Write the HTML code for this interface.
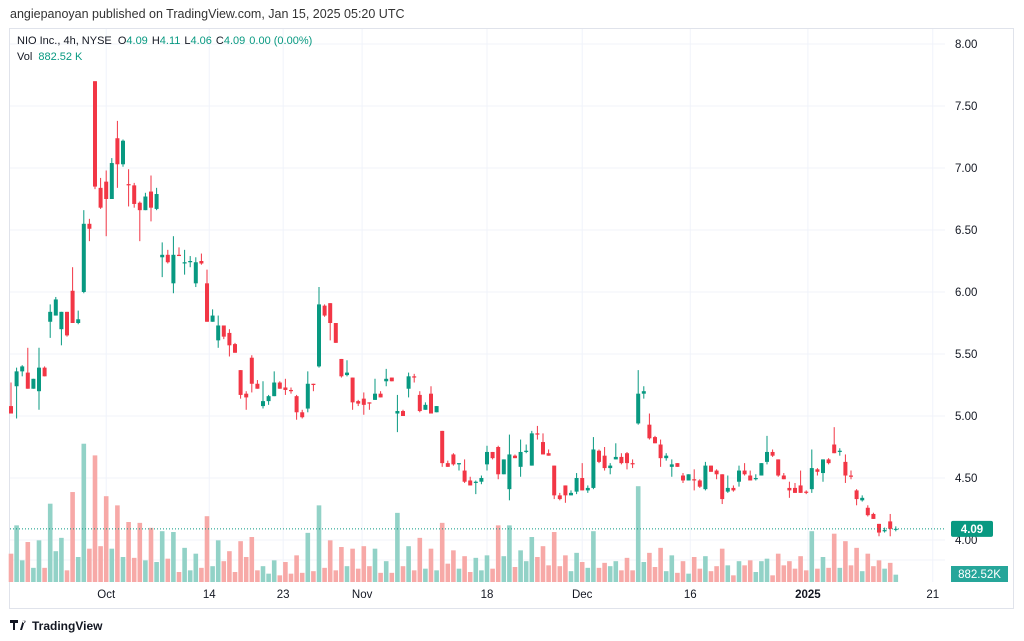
<!DOCTYPE html>
<html><head><meta charset="utf-8"><style>
html,body{margin:0;padding:0;background:#fff;width:1024px;height:641px;overflow:hidden;font-family:"Liberation Sans",sans-serif}
svg{display:block}
</style></head><body>
<svg id="c" width="1024" height="641" viewBox="0 0 1024 641" xmlns="http://www.w3.org/2000/svg">
<text x="10" y="18" font-size="12.5" fill="#333">angiepanoyan published on TradingView.com, Jan 15, 2025 05:20 UTC</text>
<rect x="9.5" y="28.5" width="1004" height="580" fill="none" stroke="#e0e3eb"/>
<g id="grid"></g>
<g id="vols"></g>
<g id="candles"></g>
<g id="axis"></g>
<g id="xaxis"></g>
<g font-size="11">
<text x="17" y="44" fill="#131722">NIO Inc., 4h, NYSE <tspan dx="3">O</tspan><tspan fill="#089981">4.09</tspan><tspan dx="4">H</tspan><tspan fill="#089981">4.11</tspan><tspan dx="4">L</tspan><tspan fill="#089981">4.06</tspan><tspan dx="4">C</tspan><tspan fill="#089981">4.09</tspan><tspan dx="4" fill="#089981">0.00 (0.00%)</tspan></text>
<text x="17" y="60" fill="#131722">Vol <tspan dx="3" fill="#089981">882.52 K</tspan></text>
</g>
<g>
<path d="M10 620h8v3h-3v7h-2v-7h-3z M20 630l3-10h2l-3 10z M24 620a1.5 1.5 0 1 0 0.01 0" fill="#131722"/>
<text x="32" y="630" font-size="12" font-weight="bold" fill="#131722">TradingView</text>
</g>
</svg>
<script>
const opens=[5.08,5.24,5.36,5.35,5.22,5.20,5.39,5.76,5.81,5.70,5.84,6.01,5.75,6.00,6.55,7.70,6.84,6.89,6.75,7.24,7.03,6.87,6.86,6.72,6.66,6.81,6.67,6.28,6.30,6.07,6.30,6.23,6.24,6.07,6.25,6.07,5.76,5.61,5.73,5.67,5.58,5.37,5.18,5.47,5.26,5.08,5.12,5.16,5.27,5.23,5.21,5.16,5.03,5.06,5.26,5.40,5.89,5.91,5.75,5.46,5.33,5.31,5.12,5.14,5.11,5.13,5.18,5.28,5.31,5.02,5.04,5.22,5.32,5.17,5.05,5.18,5.03,4.88,4.62,4.69,4.61,4.56,4.48,4.46,4.47,4.61,4.71,4.75,4.53,4.41,4.68,4.59,4.71,4.60,4.86,4.79,4.70,4.60,4.36,4.44,4.36,4.39,4.50,4.40,4.42,4.72,4.68,4.58,4.65,4.67,4.70,4.62,4.94,5.18,4.93,4.83,4.77,4.66,4.59,4.62,4.52,4.48,4.49,4.48,4.41,4.60,4.56,4.53,4.39,4.42,4.47,4.56,4.52,4.49,4.52,4.63,4.71,4.65,4.52,4.42,4.42,4.44,4.39,4.41,4.57,4.54,4.65,4.77,4.71,4.63,4.52,4.40,4.32,4.26,4.21,4.13,4.07,4.15,4.09];
const highs=[5.27,5.39,5.41,5.55,5.30,5.55,5.40,5.90,5.96,5.84,5.84,6.20,5.85,6.66,6.59,7.70,6.92,6.98,7.08,7.38,7.23,6.99,6.88,6.73,6.80,6.94,6.84,6.40,6.34,6.45,6.36,6.34,6.29,6.28,6.31,6.18,5.86,5.81,5.73,5.70,5.59,5.37,5.20,5.49,5.29,5.28,5.17,5.36,5.28,5.30,5.23,5.17,5.05,5.36,5.26,6.04,5.90,5.91,5.75,5.46,5.45,5.31,5.13,5.19,5.11,5.30,5.20,5.38,5.31,5.17,5.05,5.35,5.34,5.20,5.11,5.24,5.08,4.88,4.64,4.70,4.62,4.65,4.51,4.48,4.52,4.76,4.71,4.76,4.65,4.85,4.69,4.81,4.77,4.88,4.92,4.86,4.73,4.60,4.38,4.44,4.40,4.54,4.62,4.44,4.83,4.73,4.75,4.62,4.78,4.70,4.71,4.65,5.37,5.24,5.02,4.84,4.81,4.70,4.65,4.62,4.54,4.53,4.57,4.49,4.63,4.60,4.57,4.53,4.52,4.44,4.60,4.62,4.56,4.53,4.62,4.84,4.73,4.65,4.54,4.47,4.46,4.56,4.40,4.73,4.58,4.65,4.66,4.91,4.74,4.69,4.56,4.41,4.36,4.28,4.22,4.13,4.10,4.21,4.11];
const lows=[5.02,4.98,5.32,5.22,5.22,5.05,5.32,5.63,5.81,5.57,5.64,5.75,5.74,5.99,6.41,6.83,6.67,6.45,6.75,6.84,7.01,6.69,6.68,6.41,6.66,6.57,6.66,6.12,6.23,5.99,6.29,6.14,6.20,6.04,6.22,5.76,5.76,5.55,5.62,5.48,5.51,5.14,5.05,5.19,5.22,5.06,5.09,5.16,5.22,5.17,5.18,4.97,4.98,5.03,5.20,5.39,5.80,5.61,5.59,5.31,5.32,5.05,5.08,5.01,5.05,5.13,5.15,5.24,5.28,4.87,5.00,5.15,5.27,5.03,5.05,5.02,5.03,4.59,4.59,4.60,4.56,4.46,4.44,4.37,4.45,4.56,4.65,4.49,4.53,4.32,4.66,4.51,4.70,4.60,4.81,4.69,4.68,4.33,4.32,4.30,4.36,4.37,4.40,4.38,4.41,4.62,4.56,4.53,4.65,4.61,4.57,4.58,4.93,5.14,4.81,4.78,4.59,4.64,4.51,4.59,4.46,4.48,4.40,4.42,4.40,4.55,4.49,4.29,4.38,4.39,4.43,4.52,4.48,4.48,4.52,4.61,4.67,4.51,4.49,4.34,4.38,4.38,4.37,4.38,4.52,4.47,4.61,4.70,4.68,4.46,4.49,4.28,4.31,4.19,4.17,4.03,4.06,4.03,4.07];
const closes=[5.02,5.36,5.40,5.22,5.30,5.39,5.32,5.84,5.94,5.84,5.65,5.75,5.78,6.55,6.51,6.85,6.68,6.75,7.04,7.03,7.22,6.86,6.71,6.66,6.77,6.68,6.79,6.30,6.24,6.30,6.29,6.24,6.25,6.24,6.23,5.76,5.81,5.73,5.64,5.57,5.51,5.17,5.15,5.26,5.22,5.12,5.16,5.27,5.22,5.21,5.20,5.03,4.99,5.26,5.25,5.90,5.81,5.75,5.59,5.32,5.35,5.11,5.10,5.09,5.10,5.18,5.15,5.30,5.28,5.04,5.00,5.32,5.31,5.04,5.09,5.02,5.08,4.62,4.59,4.61,4.62,4.47,4.44,4.47,4.50,4.71,4.66,4.53,4.65,4.69,4.66,4.71,4.72,4.86,4.85,4.69,4.68,4.36,4.33,4.36,4.38,4.50,4.40,4.42,4.73,4.63,4.58,4.60,4.67,4.62,4.62,4.61,5.18,5.20,4.82,4.78,4.66,4.68,4.61,4.59,4.48,4.53,4.48,4.43,4.60,4.55,4.53,4.33,4.42,4.40,4.56,4.53,4.48,4.50,4.62,4.71,4.68,4.52,4.49,4.40,4.38,4.38,4.38,4.58,4.55,4.65,4.62,4.70,4.72,4.52,4.51,4.33,4.34,4.20,4.17,4.06,4.08,4.09,4.09];
const volumes=[3.4,6.8,2.6,4.8,1.7,5.0,1.7,9.4,3.7,5.3,1.4,10.8,3.0,16.6,4.0,15.2,4.3,10.3,4.0,9.2,3.0,7.2,2.9,7.1,2.6,6.5,2.4,6.1,2.8,6.0,1.2,4.1,1.4,3.4,1.7,7.9,1.9,5.0,2.5,3.7,1.2,4.9,3.0,5.4,1.4,1.9,1.0,2.6,0.8,2.4,1.0,3.2,1.1,5.9,1.3,9.2,1.7,5.0,1.4,4.2,1.9,4.0,1.6,4.3,1.9,4.0,1.1,2.5,1.1,8.3,1.9,4.3,1.4,5.3,1.6,4.0,1.4,7.1,2.2,3.8,1.6,3.1,1.2,2.9,1.4,3.2,1.6,6.8,3.1,6.8,1.8,3.8,2.5,5.4,3.0,4.3,2.0,6.0,1.9,3.2,1.3,3.5,2.4,1.7,6.1,1.7,2.3,1.9,2.5,1.4,2.9,1.4,11.5,2.4,3.5,1.8,4.1,1.3,3.2,1.1,2.5,1.0,3.0,1.6,3.1,1.3,1.9,4.0,2.0,0.8,2.5,2.0,2.6,1.2,2.5,2.8,0.8,3.4,2.0,2.5,1.6,3.1,1.4,6.1,1.6,3.0,1.7,5.8,1.7,4.9,2.0,4.1,1.3,3.4,1.9,2.6,1.6,2.3,0.88];
const priceTicks=[4.00,4.50,5.00,5.50,6.00,6.50,7.00,7.50,8.00];
const dateLabels=["Oct","14","23","Nov","18","Dec","16","2025","21"];
const dateIdx=[17,35.4,48.6,62.7,85,102,121.3,142.3,164.6];
const lastPrice=4.09;
const lastVolLabel="882.52K";

const NS="http://www.w3.org/2000/svg";
const X0=11,STEP=5.6,PLOT_R=945;
function xs(i){return X0+i*STEP;}
function ys(p){return 540-(p-4)*124;}
function yv(v){return 582-v*8.33;}
function mk(tag,attrs,parent){const e=document.createElementNS(NS,tag);for(const k in attrs)e.setAttribute(k,attrs[k]);parent.appendChild(e);return e;}
const grid=document.getElementById('grid'),vols=document.getElementById('vols'),cg=document.getElementById('candles'),ax=document.getElementById('axis'),xa=document.getElementById('xaxis');

priceTicks.forEach(p=>{
  const l=mk('line',{x1:10,x2:PLOT_R,y1:ys(p),y2:ys(p),stroke:'#f0f3fa','stroke-width':1},grid);
  
  
  const t=mk('text',{x:955,y:ys(p)+4,'font-size':11.5,fill:'#131722'},ax);
  t.textContent=p.toFixed(2);
  
  
});
mk('line',{x1:10,x2:PLOT_R,y1:560,y2:560,stroke:'#f0f3fa'},grid);
dateIdx.forEach((d,k)=>{
  const x=xs(d);
  const l=mk('line',{x1:x,x2:x,y1:29,y2:582,stroke:'#f0f3fa','stroke-width':1},grid);
  
  
  const t=mk('text',{x:x,y:598,'font-size':11.5,fill:'#131722','text-anchor':'middle','font-weight':dateLabels[k]==='2025'?'bold':'normal'},xa);
  t.textContent=dateLabels[k];
  
  
});

for(let i=0;i<closes.length;i++){
  const up=closes[i]>=opens[i];
  const x=xs(i);
  const vb=mk('rect',{x:x-2.3,y:yv(volumes[i]),width:4.6,height:582-yv(volumes[i]),fill:up?'#92d2c7':'#f7a9a7'},vols);
  
  
  const col=up?'#089981':'#f23645';
  const w=mk('line',{x1:x,x2:x,y1:ys(highs[i]),y2:ys(lows[i]),stroke:col,'stroke-width':1},cg);
  
  
  const top=ys(Math.max(opens[i],closes[i])),bot=ys(Math.min(opens[i],closes[i]));
  const b=mk('rect',{x:x-2,y:top,width:4,height:Math.max(1,bot-top),fill:col},cg);
  
  
}
const pl=mk('line',{x1:10,x2:PLOT_R,y1:ys(lastPrice),y2:ys(lastPrice),stroke:'#089981','stroke-width':1,'stroke-dasharray':'1 2'},cg);


const pb=mk('rect',{x:951,y:ys(lastPrice)-8,width:42,height:16,rx:2,fill:'#089981'},ax);


const pt=mk('text',{x:972,y:ys(lastPrice)+4,'font-size':11.5,fill:'#fff','text-anchor':'middle','font-weight':'bold'},ax);
pt.textContent=lastPrice.toFixed(2);


const vbx=mk('rect',{x:951,y:566,width:57,height:16,fill:'#26a69a'},ax);


const vt=mk('text',{x:979.5,y:578,'font-size':11.5,fill:'#fff','text-anchor':'middle'},ax);
vt.textContent=lastVolLabel;


</script>
</body></html>
